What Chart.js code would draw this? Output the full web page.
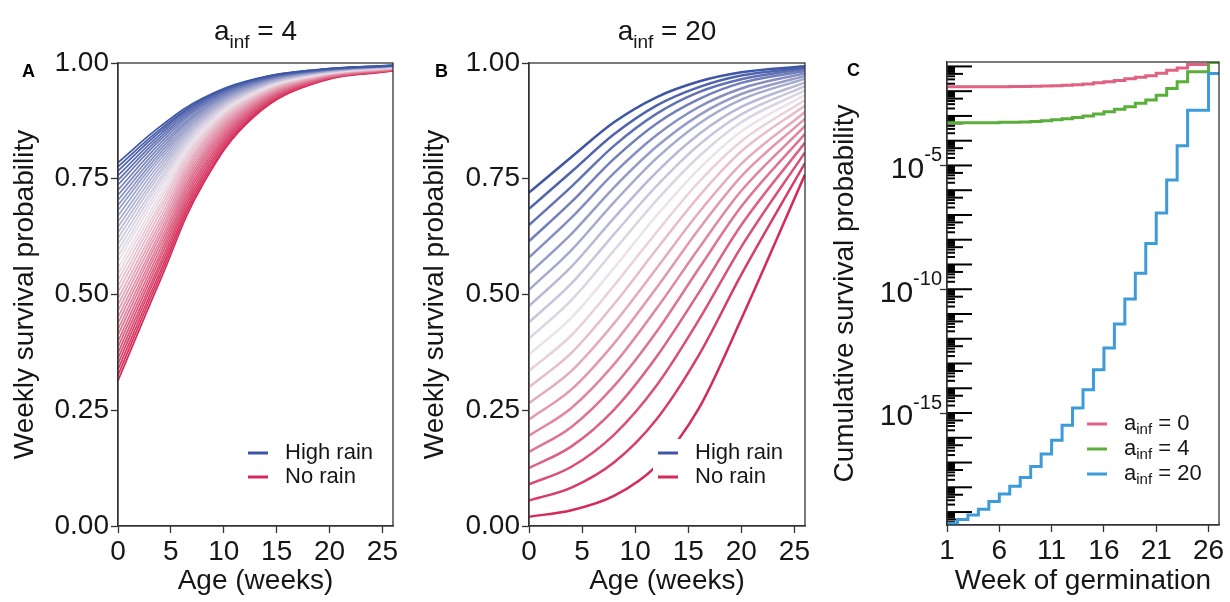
<!DOCTYPE html>
<html>
<head>
<meta charset="utf-8">
<title>Weekly and cumulative survival</title>
<script src="https://cdn.jsdelivr.net/npm/chart.js@4.4.1/dist/chart.umd.min.js"></script>
<style>
  html, body { margin: 0; padding: 0; background: #fff; }
  #fig { position: relative; width: 1230px; height: 602px; overflow: hidden; }
  .panel { position: absolute; top: 0; width: 410px; height: 602px; }
</style>
</head>
<body>
<div id="fig">
  <div class="panel" style="left:0px"><canvas id="chartA" width="410" height="602"></canvas></div>
  <div class="panel" style="left:410px"><canvas id="chartB" width="410" height="602"></canvas></div>
  <div class="panel" style="left:820px"><canvas id="chartC" width="410" height="602"></canvas></div>
</div>
<script>
// tick labels
const ageTicks = [0, 5, 10, 15, 20, 25];
const probTicks = [0, 0.25, 0.5, 0.75, 1];
const weekTicks = [1, 6, 11, 16, 21, 26];
const cumTicks = [1e-15, 1e-10, 1e-5];

const agesA = [0, 4, 8, 13, 19, 26];
const survA = [
  [0.785, 0.863, 0.924, 0.966, 0.986, 0.995],
  [0.776, 0.857, 0.921, 0.965, 0.986, 0.995],
  [0.767, 0.852, 0.919, 0.964, 0.985, 0.995],
  [0.757, 0.846, 0.916, 0.962, 0.985, 0.994],
  [0.747, 0.840, 0.913, 0.961, 0.984, 0.994],
  [0.737, 0.834, 0.910, 0.960, 0.984, 0.994],
  [0.726, 0.827, 0.907, 0.959, 0.983, 0.994],
  [0.715, 0.820, 0.903, 0.957, 0.983, 0.994],
  [0.704, 0.813, 0.900, 0.956, 0.983, 0.994],
  [0.693, 0.806, 0.897, 0.955, 0.982, 0.993],
  [0.682, 0.799, 0.893, 0.953, 0.982, 0.993],
  [0.670, 0.792, 0.889, 0.952, 0.981, 0.993],
  [0.658, 0.784, 0.886, 0.950, 0.980, 0.993],
  [0.646, 0.776, 0.882, 0.948, 0.980, 0.992],
  [0.634, 0.768, 0.878, 0.947, 0.979, 0.992],
  [0.622, 0.760, 0.874, 0.945, 0.979, 0.992],
  [0.609, 0.751, 0.870, 0.944, 0.978, 0.992],
  [0.596, 0.743, 0.865, 0.942, 0.977, 0.991],
  [0.583, 0.734, 0.861, 0.940, 0.977, 0.991],
  [0.571, 0.725, 0.856, 0.938, 0.976, 0.991],
  [0.557, 0.715, 0.851, 0.936, 0.975, 0.991],
  [0.544, 0.706, 0.847, 0.934, 0.975, 0.990],
  [0.531, 0.696, 0.842, 0.932, 0.974, 0.990],
  [0.518, 0.687, 0.837, 0.930, 0.973, 0.990],
  [0.505, 0.677, 0.831, 0.928, 0.973, 0.989],
  [0.491, 0.666, 0.826, 0.925, 0.972, 0.989],
  [0.478, 0.656, 0.821, 0.923, 0.971, 0.989],
  [0.465, 0.646, 0.815, 0.921, 0.970, 0.988],
  [0.451, 0.636, 0.809, 0.918, 0.969, 0.988],
  [0.438, 0.627, 0.803, 0.916, 0.969, 0.988],
  [0.425, 0.617, 0.797, 0.913, 0.968, 0.987],
  [0.413, 0.608, 0.791, 0.911, 0.967, 0.987],
  [0.399, 0.598, 0.785, 0.908, 0.966, 0.986],
  [0.387, 0.588, 0.778, 0.905, 0.965, 0.986],
  [0.374, 0.579, 0.772, 0.902, 0.964, 0.985],
  [0.362, 0.569, 0.765, 0.899, 0.963, 0.985],
  [0.350, 0.560, 0.758, 0.896, 0.962, 0.985],
  [0.338, 0.550, 0.751, 0.893, 0.961, 0.984],
  [0.326, 0.541, 0.744, 0.890, 0.960, 0.984],
  [0.314, 0.531, 0.737, 0.887, 0.959, 0.983]
];

// panel B (a_inf = 20)
const agesB = [0, 4, 8, 12, 16, 20, 26];
const survB = [
  [0.720, 0.797, 0.872, 0.926, 0.960, 0.980, 0.993],
  [0.685, 0.765, 0.846, 0.908, 0.948, 0.973, 0.990],
  [0.650, 0.733, 0.821, 0.890, 0.937, 0.965, 0.987],
  [0.615, 0.700, 0.793, 0.869, 0.922, 0.957, 0.983],
  [0.580, 0.666, 0.762, 0.844, 0.905, 0.945, 0.978],
  [0.545, 0.631, 0.731, 0.819, 0.887, 0.933, 0.972],
  [0.510, 0.596, 0.699, 0.794, 0.869, 0.921, 0.966],
  [0.475, 0.560, 0.665, 0.764, 0.846, 0.905, 0.958],
  [0.440, 0.524, 0.630, 0.734, 0.823, 0.889, 0.950],
  [0.405, 0.488, 0.595, 0.703, 0.798, 0.872, 0.941],
  [0.370, 0.450, 0.557, 0.670, 0.771, 0.852, 0.931],
  [0.335, 0.412, 0.519, 0.634, 0.743, 0.831, 0.920],
  [0.300, 0.374, 0.479, 0.597, 0.712, 0.809, 0.908],
  [0.265, 0.335, 0.437, 0.556, 0.677, 0.782, 0.894],
  [0.230, 0.295, 0.394, 0.514, 0.641, 0.755, 0.880],
  [0.195, 0.255, 0.349, 0.469, 0.600, 0.724, 0.864],
  [0.160, 0.214, 0.302, 0.419, 0.556, 0.690, 0.847],
  [0.125, 0.172, 0.251, 0.365, 0.504, 0.650, 0.828],
  [0.090, 0.128, 0.197, 0.303, 0.445, 0.603, 0.807],
  [0.055, 0.083, 0.137, 0.230, 0.369, 0.543, 0.784],
  [0.020, 0.034, 0.065, 0.130, 0.254, 0.447, 0.759]
];

// panel C: cumulative survival by week of germination
const weeksC = [1, 2, 3, 4, 5, 6, 7, 8, 9, 10, 11, 12, 13, 14, 15, 16, 17, 18, 19, 20, 21, 22, 23, 24, 25, 26, 27];
const cumAinf0 = [0.0151, 0.0151, 0.0151, 0.0151, 0.0151, 0.0151, 0.0155, 0.0155, 0.0158, 0.0162, 0.0166, 0.0174, 0.0182, 0.0195,
  0.0219, 0.0240, 0.0269, 0.0316, 0.0363, 0.0417, 0.0525, 0.0708, 0.0871, 0.120, 0.120, 0.145, 0.145];
const cumAinf4 = [5.25e-4, 5.25e-4, 5.25e-4, 5.25e-4, 5.37e-4, 5.50e-4, 5.62e-4, 5.75e-4, 6.03e-4, 6.46e-4, 7.08e-4, 7.76e-4, 8.71e-4,
  1.0e-3, 1.2e-3, 1.48e-3, 1.86e-3, 2.34e-3, 3.24e-3, 4.37e-3, 6.92e-3, 1.29e-2, 2.4e-2, 6.03e-2, 6.03e-2, 0.145, 0.145];
const cumAinf20 = [3.5e-20, 5.0e-20, 7.6e-20, 1.3e-19, 2.7e-19, 5.4e-19, 1.1e-18, 2.5e-18, 6.9e-18, 2.2e-17, 7.9e-17, 3.2e-16, 1.6e-15,
  8.7e-15, 5.6e-14, 4.2e-13, 3.9e-12, 4.0e-11, 4.4e-10, 7.1e-9, 1.2e-7, 2.6e-6, 6.3e-5, 1.7e-3, 1.7e-3, 5.2e-2, 5.2e-2];

const FONT = "'Liberation Sans', Arial, Helvetica, sans-serif";
const INK = '#161616';
const AXIS = '#333';
Chart.defaults.font.family = FONT;
Chart.defaults.color = INK;

const blueEnd = [62, 86, 166], midTone = [236, 226, 233], redEnd = [213, 42, 87];
function rampColor(f) {
  const a = f < 0.5 ? blueEnd : midTone;
  const b = f < 0.5 ? midTone : redEnd;
  const u = f < 0.5 ? f * 2 : (f - 0.5) * 2;
  const c = a.map((v, k) => Math.round(v + (b[k] - v) * u));
  return `rgb(${c[0]},${c[1]},${c[2]})`;
}
const colA0 = '#df6282', colA4 = '#5aae3a', colA20 = '#3c9bd8';

const sub = (main, s, rest, size) => [
  { t: main, size: size }, { t: s, size: Math.round(size * 0.68), dy: Math.round(size * 0.27) }, { t: rest, size: size }
];

// extra drawing per canvas: panel letter, heading, legend
const panels = {
  chartA: {
    letter: 'A', letterX: 22, letterY: 77,
    title: sub('a', 'inf', ' = 4', 28),
    legend: [{ color: rampColor(0), parts: [{ t: 'High rain', size: 22 }] },
             { color: rampColor(1), parts: [{ t: 'No rain', size: 22 }] }],
    legendX: 248, legendY: 453, rowGap: 24
  },
  chartB: {
    letter: 'B', letterX: 25, letterY: 77,
    title: sub('a', 'inf', ' = 20', 28),
    legend: [{ color: rampColor(0), parts: [{ t: 'High rain', size: 22 }] },
             { color: rampColor(1), parts: [{ t: 'No rain', size: 22 }] }],
    legendX: 248, legendY: 453, rowGap: 24
  },
  chartC: {
    letter: 'C', letterX: 27, letterY: 76,
    legend: [{ color: colA0, parts: sub('a', 'inf', ' = 0', 22) },
             { color: colA4, parts: sub('a', 'inf', ' = 4', 22) },
             { color: colA20, parts: sub('a', 'inf', ' = 20', 22) }],
    legendX: 267, legendY: 424, rowGap: 25,
    logTicks: true,
    logLabels: [['10', '-15'], ['10', '-10'], ['10', '-5']]
  }
};

function partsWidth(ctx, parts) {
  let w = 0;
  parts.forEach(p => { ctx.font = `${p.size}px ${FONT}`; w += ctx.measureText(p.t).width; });
  return w;
}
function drawParts(ctx, x, y, parts, align, baseline) {
  const w = partsWidth(ctx, parts);
  let cx = align === 'center' ? x - w / 2 : (align === 'right' ? x - w : x);
  ctx.textAlign = 'left';
  ctx.textBaseline = baseline;
  parts.forEach(p => {
    ctx.font = `${p.size}px ${FONT}`;
    ctx.fillText(p.t, cx, y + (p.dy || 0));
    cx += ctx.measureText(p.t).width;
  });
  return w;
}

const decor = {
  id: 'decor',
  beforeDatasetsDraw(chart) {
    const p = panels[chart.canvas.id];
    if (!p || !p.logTicks) return;
    const ctx = chart.ctx, ca = chart.chartArea, ys = chart.scales.y;
    ctx.save();
    ctx.beginPath();
    ctx.rect(ca.left, ca.top, ca.right - ca.left, ca.bottom - ca.top);
    ctx.clip();
    ctx.strokeStyle = '#000';
    ctx.lineWidth = 2;
    for (let k = -21; k <= 0; k++) {
      for (let m = 1; m <= 9; m++) {
        const y = ys.getPixelForValue(m * Math.pow(10, k));
        if (y < ca.top - 2 || y > ca.bottom + 2) continue;
        const len = m === 1 ? 25 : (m === 5 ? 16 : 8);
        ctx.beginPath();
        ctx.moveTo(ca.left, y);
        ctx.lineTo(ca.left + len, y);
        ctx.stroke();
      }
    }
    ctx.restore();
  },
  afterDraw(chart) {
    const p = panels[chart.canvas.id];
    if (!p) return;
    const ctx = chart.ctx, ca = chart.chartArea;
    ctx.save();
    ctx.strokeStyle = AXIS;
    ctx.lineWidth = 1.3;
    ctx.strokeRect(ca.left, ca.top, ca.right - ca.left, ca.bottom - ca.top);

    ctx.fillStyle = '#000';
    ctx.font = `bold 18px ${FONT}`;
    ctx.textAlign = 'left';
    ctx.textBaseline = 'alphabetic';
    ctx.fillText(p.letter, p.letterX, p.letterY);

    ctx.fillStyle = INK;
    if (p.title) drawParts(ctx, (ca.left + ca.right) / 2, 40, p.title, 'center', 'alphabetic');

    if (p.logLabels) {
      const ys = chart.scales.y;
      p.logLabels.forEach((lab, i) => {
        const y = ys.getPixelForValue(cumTicks[i]);
        drawParts(ctx, ca.left - 5, y, [{ t: lab[0], size: 30, dy: 4 }, { t: lab[1], size: 20, dy: -10 }], 'right', 'middle');
      });
    }

    // legend with white key background
    const widths = p.legend.map(e => partsWidth(ctx, e.parts));
    const boxW = 18 + 20 + Math.max(...widths) + 6;
    ctx.fillStyle = '#fff';
    ctx.fillRect(p.legendX - 5, p.legendY - p.rowGap / 2 - 2, boxW, p.rowGap * p.legend.length + 4);
    p.legend.forEach((e, i) => {
      const y = p.legendY + i * p.rowGap;
      ctx.strokeStyle = e.color;
      ctx.lineWidth = 3;
      ctx.beginPath();
      ctx.moveTo(p.legendX, y);
      ctx.lineTo(p.legendX + 20, y);
      ctx.stroke();
      ctx.fillStyle = INK;
      drawParts(ctx, p.legendX + 37, y, e.parts, 'left', 'middle');
    });
    ctx.restore();
  }
};
Chart.register(decor);

function axisStyle() {
  return {
    grid: { display: true, drawOnChartArea: false, drawTicks: true, tickLength: 7, tickWidth: 1.3, tickColor: AXIS },
    border: { display: true, color: AXIS, width: 1.3 }
  };
}

function survivalChart(id, ages, rows, lineWidth, yWidth, rightPad, smooth) {
  const datasets = rows.map((row, i) => ({
    data: ages.map((t, j) => ({ x: t, y: row[j] })),
    borderColor: rampColor(i / (rows.length - 1)),
    borderWidth: lineWidth,
    cubicInterpolationMode: smooth ? 'default' : 'monotone',
    tension: smooth ? 0.4 : 0,
    pointRadius: 0,
    fill: false
  }));
  return new Chart(document.getElementById(id), {
    type: 'line',
    data: { datasets },
    options: {
      responsive: false,
      animation: false,
      events: [],
      layout: { padding: { left: 0, right: rightPad, top: 63, bottom: 0 } },
      plugins: { legend: { display: false }, tooltip: { enabled: false } },
      scales: {
        x: {
          type: 'linear', min: 0, max: 26,
          afterBuildTicks: s => { s.ticks = ageTicks.map(v => ({ value: v })); },
          afterFit: s => { s.height = 76; },
          ...axisStyle(),
          ticks: { font: { size: 28 }, padding: 2, color: INK, maxRotation: 0, autoSkip: false },
          title: { display: true, text: 'Age (weeks)', font: { size: 28 }, color: INK, padding: { top: 0, bottom: 4 } }
        },
        y: {
          type: 'linear', min: 0, max: 1,
          afterBuildTicks: s => { s.ticks = probTicks.map(v => ({ value: v })); },
          afterFit: s => { s.width = yWidth; },
          ...axisStyle(),
          ticks: { font: { size: 28 }, padding: 2, color: INK, callback: v => Number(v).toFixed(2) },
          title: { display: true, text: 'Weekly survival probability', font: { size: 28 }, color: INK, padding: { top: 8, bottom: 0 } }
        }
      }
    }
  });
}

survivalChart('chartA', agesA, survA, 1.7, 118, 17, true);
survivalChart('chartB', agesB, survB, 2.5, 119, 15, false);

const stepSeries = [
  { values: cumAinf20, color: colA20 },
  { values: cumAinf4, color: colA4 },
  { values: cumAinf0, color: colA0 }
];
new Chart(document.getElementById('chartC'), {
  type: 'line',
  data: {
    datasets: stepSeries.map(s => ({
      data: weeksC.map((w, j) => ({ x: w, y: s.values[j] })),
      borderColor: s.color,
      borderWidth: 3,
      stepped: true,
      pointRadius: 0,
      fill: false
    }))
  },
  options: {
    responsive: false,
    animation: false,
    events: [],
    layout: { padding: { left: 0, right: 11, top: 62, bottom: 0 } },
    plugins: { legend: { display: false }, tooltip: { enabled: false } },
    scales: {
      x: {
        type: 'linear', min: 1, max: 27,
        afterBuildTicks: s => { s.ticks = weekTicks.map(v => ({ value: v })); },
        afterFit: s => { s.height = 77; },
        ...axisStyle(),
        ticks: { font: { size: 28 }, padding: 2, color: INK, maxRotation: 0, autoSkip: false },
        title: { display: true, text: 'Week of germination', font: { size: 28 }, color: INK, padding: { top: 0, bottom: 4 } }
      },
      y: {
        type: 'logarithmic', min: 3.0e-20, max: 0.151,
        afterBuildTicks: s => { s.ticks = cumTicks.map(v => ({ value: v })); },
        afterFit: s => { s.width = 127; },
        ...axisStyle(),
        ticks: { font: { size: 28 }, padding: 2, callback: () => '' },
        title: { display: true, text: 'Cumulative survival probability', font: { size: 28 }, color: INK, padding: { top: 8, bottom: 0 } }
      }
    }
  }
});
</script>
</body>
</html>
